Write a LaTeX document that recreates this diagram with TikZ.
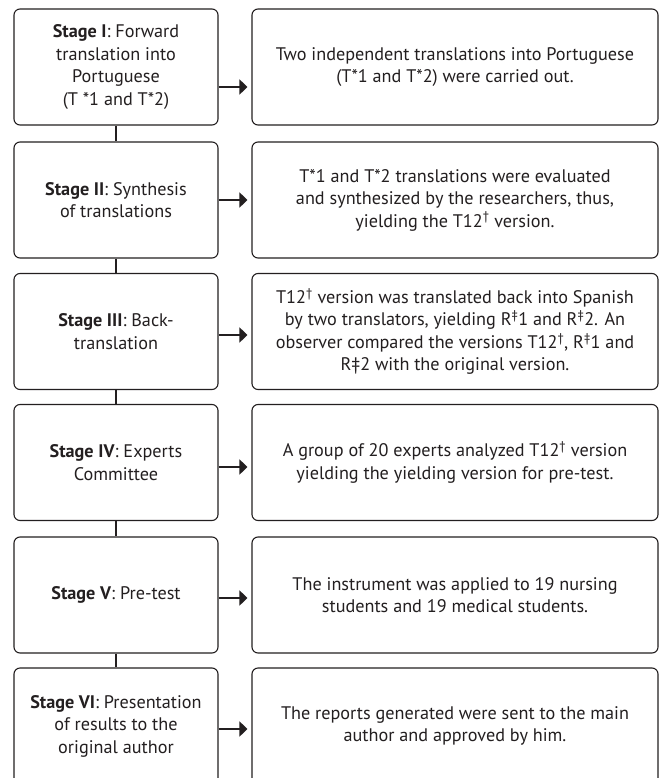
\documentclass[tikz,border=0pt]{standalone}
\usepackage{fontspec}
\setmainfont{PT Sans}
\usetikzlibrary{arrows.meta}
\definecolor{ln}{HTML}{231F20}
\begin{document}
\begin{tikzpicture}[x=1pt,y=-1pt,
  box/.style={draw=ln, line width=1.1pt, rounded corners=6pt, align=center,
    font=\fontsize{18.2}{22.5}\selectfont, text=ln, inner sep=0pt},
  lbox/.style={box, minimum width=204pt, minimum height=116pt},
  rbox/.style={box, minimum width=406pt, minimum height=116pt},
  link/.style={draw=ln, line width=1.8pt},
  arr/.style={draw=ln, line width=1.8pt, -{Triangle[length=8pt,width=15pt]}, shorten >=4pt}]
\clip (0,0) rectangle (662,778);
\fill[white] (0,0) rectangle (662,778);

\node[lbox] (L1) at (116,67) {\textbf{Stage I}: Forward\\translation into\\Portuguese\\(T *1 and T*2)};
\node[rbox] (R1) at (455,67) {Two independent translations into Portuguese\\(T*1 and T*2) were carried out.};

\node[lbox] (L2) at (116,200) {\textbf{Stage II}: Synthesis\\of translations};
\node[rbox] (R2) at (455,200) {T*1 and T*2 translations were evaluated\\and synthesized by the researchers, thus,\\yielding the T12\textsuperscript{\textdagger} version.};

\node[lbox] (L3) at (116,331.5) {\textbf{Stage III}: Back-\\translation};
\node[rbox] (R3) at (455,331.5) {T12\textsuperscript{\textdagger} version was translated back into Spanish\\by two translators, yielding R\textsuperscript{\textdaggerdbl}1 and R\textsuperscript{\textdaggerdbl}2. An\\observer compared the versions T12\textsuperscript{\textdagger}, R\textsuperscript{\textdaggerdbl}1 and\\R\textdaggerdbl 2 with the original version.};

\node[lbox] (L4) at (116,462.5) {\textbf{Stage IV}: Experts\\Committee};
\node[rbox] (R4) at (455,462.5) {A group of 20 experts analyzed T12\textsuperscript{\textdagger} version\\yielding the yielding version for pre-test.};

\node[lbox] (L5) at (116,595) {\textbf{Stage V}: Pre-test};
\node[rbox] (R5) at (455,595) {The instrument was applied to 19 nursing\\students and 19 medical students.};

\node[lbox] (L6) at (116,726) {\textbf{Stage VI}: Presentation\\of results to the\\original author};
\node[rbox] (R6) at (455,726) {The reports generated were sent to the main\\author and approved by him.};

\draw[link] (L1.south) -- (L2.north);
\draw[link] (L2.south) -- (L3.north);
\draw[link] (L3.south) -- (L4.north);
\draw[link] (L4.south) -- (L5.north);
\draw[link] (L5.south) -- (L6.north);

\draw[arr] ([yshift=-20pt]L1.east) -- ([yshift=-20pt]R1.west);
\draw[arr] (L2.east) -- (R2.west);
\draw[arr] ([yshift=-3.5pt]L3.east) -- ([yshift=-3.5pt]R3.west);
\draw[arr] ([yshift=-4.5pt]L4.east) -- ([yshift=-4.5pt]R4.west);
\draw[arr] ([yshift=-3pt]L5.east) -- ([yshift=-3pt]R5.west);
\draw[arr] ([yshift=-3pt]L6.east) -- ([yshift=-3pt]R6.west);
\end{tikzpicture}
\end{document}
